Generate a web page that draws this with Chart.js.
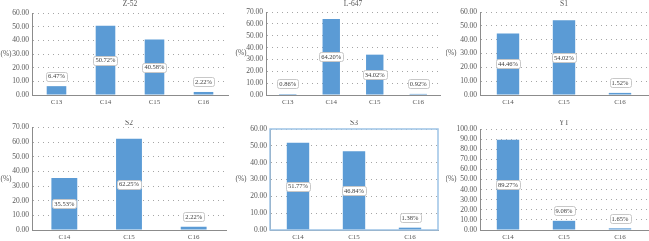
<!DOCTYPE html>
<html>
<head>
<meta charset="utf-8">
<script src="https://cdn.jsdelivr.net/npm/chart.js@4"></script>
<style>
  body { margin: 0; background: #fff; }
  #wrap { position: relative; width: 649px; height: 241px; overflow: hidden; }
  canvas { position: absolute; }
</style>
</head>
<body>
<div id="wrap"></div>
<script>
// ---- data ----
let z52Cats = ['C13', 'C14', 'C15', 'C16'];
let z52Vals = [6.47, 50.72, 40.58, 2.22];

let l647Cats = ['C13', 'C14', 'C15', 'C16'];
let l647Vals = [0.86, 64.20, 34.02, 0.92];

let s1Cats = ['C14', 'C15', 'C16'];
let s1Vals = [44.46, 54.02, 1.52];

let s2Cats = ['C14', 'C15', 'C16'];
let s2Vals = [35.53, 62.25, 2.22];

let s3Cats = ['C14', 'C15', 'C16'];
let s3Vals = [51.77, 46.84, 1.38];

let ytCats = ['C14', 'C15', 'C16'];
let ytVals = [89.27, 9.08, 1.65];

let yMaxes = [60, 70, 60, 70, 60, 100];
let titles = ['Z-52', 'L-647', 'S1', 'S2', 'S3', 'YT'];

// ---- panel layout (canvas box + plot margins) ----
let panels = [
  { cats: z52Cats,  vals: z52Vals,  x: 0,   y: 0,   w: 231, h: 120, yw: 32, pr: 3, pt: 13, xh: 25, titleY: 4, pctX: 6 },
  { cats: l647Cats, vals: l647Vals, x: 231, y: 0,   w: 215, h: 120, yw: 35, pr: 6, pt: 12, xh: 25, titleY: 4, pctX: 10 },
  { cats: s1Cats,   vals: s1Vals,   x: 446, y: 0,   w: 203, h: 120, yw: 34, pr: 1, pt: 12, xh: 25, titleY: 4, pctX: 5 },
  { cats: s2Cats,   vals: s2Vals,   x: 0,   y: 120, w: 231, h: 121, yw: 32, pr: 5, pt: 7,  xh: 11, titleY: 3, pctX: 6 },
  { cats: s3Cats,   vals: s3Vals,   x: 231, y: 120, w: 215, h: 121, yw: 39, pr: 8, pt: 9,  xh: 11, titleY: 3, pctX: 10, box: true },
  { cats: ytCats,   vals: ytVals,   x: 446, y: 120, w: 203, h: 121, yw: 34, pr: 1, pt: 9,  xh: 11, titleY: 3, pctX: 5 }
];

const FONT = "'Liberation Serif', 'DejaVu Serif', serif";
const TEXT = '#595959';
const BAR = '#5b9bd5';

function roundRect(ctx, x, y, w, h, r) {
  ctx.beginPath();
  ctx.moveTo(x + r, y);
  ctx.lineTo(x + w - r, y);
  ctx.quadraticCurveTo(x + w, y, x + w, y + r);
  ctx.lineTo(x + w, y + h - r);
  ctx.quadraticCurveTo(x + w, y + h, x + w - r, y + h);
  ctx.lineTo(x + r, y + h);
  ctx.quadraticCurveTo(x, y + h, x, y + h - r);
  ctx.lineTo(x, y + r);
  ctx.quadraticCurveTo(x, y, x + r, y);
  ctx.closePath();
}

// title, "(%)", value callouts and the selection box on S3
const decor = {
  id: 'decor',
  afterDatasetsDraw(chart) {
    let ctx = chart.ctx;
    let meta = chart.getDatasetMeta(0);
    let vals = chart.data.datasets[0].data;
    ctx.save();
    ctx.font = '6.5px ' + FONT;
    ctx.textAlign = 'center';
    ctx.textBaseline = 'middle';
    meta.data.forEach(function(bar, i) {
      let top = bar.y, base = bar.base;
      let cy = (base - top) >= 20 ? (top + base) / 2 : top - 10;
      let txt = vals[i].toFixed(2) + '%';
      let tw = ctx.measureText(txt).width + 4;
      roundRect(ctx, Math.round(bar.x - tw / 2) + 0.5, Math.round(cy - 4.5) + 0.5, Math.round(tw), 9, 2);
      ctx.fillStyle = '#fff';
      ctx.fill();
      ctx.strokeStyle = '#c8c8c8';
      ctx.lineWidth = 1;
      ctx.stroke();
      ctx.fillStyle = '#404040';
      ctx.fillText(txt, bar.x, cy + 0.5);
    });
    ctx.restore();
  },
  afterDraw(chart) {
    let o = chart.options.plugins.decor;
    let a = chart.chartArea;
    let ctx = chart.ctx;
    ctx.save();
    ctx.fillStyle = TEXT;
    ctx.font = '7.5px ' + FONT;
    ctx.textAlign = 'center';
    ctx.textBaseline = 'middle';
    ctx.fillText(o.title, (a.left + a.right) / 2, o.titleY);
    ctx.fillText('(%)', o.pctX, (a.top + a.bottom) / 2);
    if (o.box) {
      ctx.strokeStyle = '#9dc3e6';
      ctx.lineWidth = 1.5;
      ctx.strokeRect(a.left, a.top, a.right - a.left, a.bottom - a.top);
    }
    ctx.restore();
  }
};

let wrap = document.querySelector('#wrap');

panels.forEach(function(p, k) {
  let cv = document.createElement('canvas');
  cv.width = p.w;
  cv.height = p.h;
  cv.style.left = p.x + 'px';
  cv.style.top = p.y + 'px';
  wrap.appendChild(cv);

  new Chart(cv.getContext('2d'), {
    type: 'bar',
    data: {
      labels: p.cats,
      datasets: [{
        data: p.vals,
        backgroundColor: BAR,
        categoryPercentage: 1,
        barPercentage: 0.4
      }]
    },
    options: {
      responsive: false,
      animation: false,
      devicePixelRatio: 1,
      layout: { padding: { left: 0, right: p.pr, top: p.pt, bottom: 0 } },
      plugins: {
        legend: { display: false },
        tooltip: { enabled: false },
        decor: { title: titles[k], titleY: p.titleY, pctX: p.pctX, box: p.box }
      },
      scales: {
        x: {
          grid: { display: false, drawTicks: false },
          border: { display: true, color: '#8c8c8c', width: 1 },
          ticks: { color: TEXT, font: { family: FONT, size: 7 }, padding: 3, maxRotation: 0, autoSkip: false },
          afterFit: function(s) { s.height = p.xh; }
        },
        y: {
          min: 0,
          max: yMaxes[k],
          grid: { color: '#a6a6a6', drawTicks: false, lineWidth: 1 },
          border: { display: true, color: '#8c8c8c', width: 1, dash: [1, 4] },
          ticks: {
            stepSize: 10,
            autoSkip: false,
            color: TEXT,
            font: { family: FONT, size: 7.5 },
            padding: 3,
            callback: function(v) { return v.toFixed(2); }
          },
          afterFit: function(s) { s.width = p.yw; }
        }
      }
    },
    plugins: [decor]
  });
});
</script>
</body>
</html>
